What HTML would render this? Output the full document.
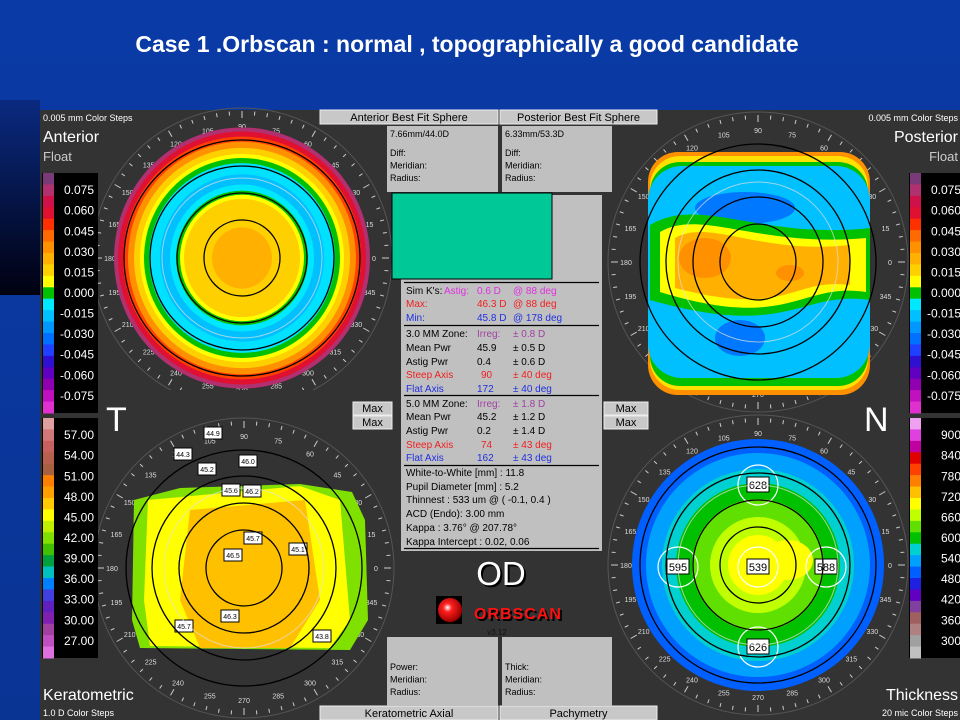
<!DOCTYPE html>
<html><head><meta charset="utf-8">
<style>
html,body{margin:0;padding:0;width:960px;height:720px;overflow:hidden;background:#0b3a9e;font-family:"Liberation Sans",sans-serif}
svg{position:absolute;left:0;top:0}
</style></head>
<body>
<svg id="s" width="960" height="720" viewBox="0 0 960 720">
<defs>
<linearGradient id="bg" x1="0" y1="0" x2="0" y2="1"><stop offset="0" stop-color="#0a3aa6"/><stop offset="1" stop-color="#0a3494"/></linearGradient>
<linearGradient id="dk" x1="0" y1="0" x2="0" y2="1"><stop offset="0" stop-color="#0a2a80"/><stop offset="1" stop-color="#000010"/></linearGradient>
<radialGradient id="ball" cx="0.4" cy="0.4" r="0.6"><stop offset="0" stop-color="#fff"/><stop offset="0.3" stop-color="#ff2020"/><stop offset="1" stop-color="#a00000"/></radialGradient>
</defs>
<rect x="0" y="0" width="960" height="720" fill="url(#bg)"/>
<rect x="0" y="100" width="40" height="195" fill="url(#dk)"/>
<text x="467" y="52" fill="#fff" font-size="23" font-weight="bold" text-anchor="middle">Case 1 .Orbscan : normal , topographically a good candidate</text>
<rect x="40" y="110" width="920" height="610" fill="#333333"/>
<g id="maps"></g>
<g id="ui"></g>
</svg>
<script>
const floatLabels=["0.075","0.060","0.045","0.030","0.015","0.000","-0.015","-0.030","-0.045","-0.060","-0.075"];
const floatColors=["#7a3a7a","#b03070","#d0104a","#e01030","#ff3000","#ff6a00","#ff9000","#ffb000","#ffd000","#ffff00","#00c000","#00e8ff","#00c0ff","#0098ff","#0070ff","#2040ff","#3010d0","#6000c0","#9000b0","#c010c0","#e030d0"];
const kerLabels=["57.00","54.00","51.00","48.00","45.00","42.00","39.00","36.00","33.00","30.00","27.00"];
const kerColors=["#e0a0a0","#d07878","#c86060","#b86050","#a86040","#ff8000","#ffa000","#ffc800","#ffff00","#c0f000","#80e000","#40c000","#00a040","#00c0c0","#0080ff","#4040e0","#6020c0","#8020b0","#a040a0","#c050c0","#e070e0"];
const thkLabels=["900","840","780","720","660","600","540","480","420","360","300"];
const thkColors=["#f0a0f0","#e040e0","#c000a0","#e00000","#ff4000","#ff8000","#ffc000","#ffff00","#c0ff00","#60e000","#00c000","#00d0d0","#00a0ff","#0060ff","#2020e0","#6000c0","#8040a0","#a06060","#b08080","#a0a0a0","#c0c0c0"];
const kerValues=["44.9","44.3","46.0","45.2","45.6","46.2","45.1","45.7","46.5","46.3","45.7","43.8"];
const kerOffsets=[[-31,-135],[-61,-114],[4,-107],[-37,-99],[-13,-78],[8,-77],[54,-19],[9,-30],[-11,-13],[-14,48],[-60,58],[78,68]];
const thkValues=["628","595","539","588","626"];
const NS="http://www.w3.org/2000/svg";
function el(tag,attrs,parent,txt){const e=document.createElementNS(NS,tag);for(const k in attrs)e.setAttribute(k,attrs[k]);if(txt!==undefined)e.textContent=txt;parent.appendChild(e);return e;}
const maps=document.getElementById('maps'),ui=document.getElementById('ui');

function dial(cx,cy,name){
  const g=el('g',{},maps);
  
  
  for(let a=0;a<360;a+=5){
    const r=a*Math.PI/180,r1=147,r2=a%30==0?140:143;
    el('line',{x1:cx+r1*Math.cos(r),y1:cy-r1*Math.sin(r),x2:cx+r2*Math.cos(r),y2:cy-r2*Math.sin(r),stroke:'#ccc','stroke-width':1},g);
    if(a%15==0){const rl=132;el('text',{x:cx+rl*Math.cos(r),y:cy-rl*Math.sin(r)+3,fill:'#ddd','font-size':7,'text-anchor':'middle'},g,String(a));}
  }
  el('circle',{cx,cy,r:150,fill:'none',stroke:'#555','stroke-width':1},g);
}
function rings(cx,cy,name){
  const g=el('g',{},maps);
  
  
  [38,65,92,118].forEach(r=>el('circle',{cx,cy,r,fill:'none',stroke:'#000','stroke-width':1.3},g));
  el('circle',{cx,cy,r:80,fill:'none',stroke:'#e0e0e0','stroke-width':1,opacity:0.7},g);
}
dial(242,258,'anterior');
(function(){const g=el('g',{},maps);


const cx=242,cy=258;
const L=[[128,"#b03070"],[124,"#e01030"],[119,"#ff4000"],[114,"#ff9000"],[108,"#ffd000"],[102,"#ffff00"],[98,"#00c000"],[93,"#00e0ff"],[82,"#00c0ff"],[72,"#00e8ff"],[66,"#00c000"],[62,"#ffff00"],[58,"#ffd000"],[30,"#ffb000"]];
L.forEach(([r,c])=>el('ellipse',{cx,cy,rx:r,ry:r*1.02,fill:c},g));
el('rect',{x:105,y:390,width:280,height:30,fill:'#333'},g);
})();
rings(242,258,'anterior');
dial(758,262,'posterior');
(function(){const g=el('g',{},maps);


el('rect',{x:648,y:152,width:222,height:243,rx:30,fill:'#ff9000'},g);
el('rect',{x:650,y:156,width:218,height:234,rx:30,fill:'#ffe000'},g);
el('rect',{x:650,y:162,width:218,height:224,rx:30,fill:'#00c000'},g);
el('rect',{x:648,y:166,width:222,height:212,rx:34,fill:'#00c0ff'},g);
el('ellipse',{cx:745,cy:208,rx:50,ry:16,fill:'#0078ff'},g);
el('ellipse',{cx:740,cy:338,rx:25,ry:18,fill:'#0078ff'},g);
el('path',{d:'M650 225 C700 195 760 240 870 228 L870 300 C800 290 790 340 650 300 Z',fill:'#00c000'},g);
el('path',{d:'M660 232 C700 208 760 248 866 238 L866 292 C800 282 790 332 660 292 Z',fill:'#ffff00'},g);
el('path',{d:'M675 238 C710 218 760 255 850 245 L850 285 C790 278 790 318 675 288 Z',fill:'#ffb000'},g);
el('ellipse',{cx:705,cy:258,rx:26,ry:20,fill:'#ff9000'},g);
el('ellipse',{cx:790,cy:273,rx:14,ry:8,fill:'#ff9000'},g);
})();
rings(758,262,'posterior');
dial(244,568,'keratometric');
(function(){const g=el('g',{},maps);


el('path',{d:'M134 500 L180 488 L300 484 L352 492 L365 520 L368 620 L350 650 L140 648 L132 620 Z',fill:'#80e000'},g);
el('path',{d:'M148 500 L300 486 L340 500 L350 620 L330 648 L150 646 L144 600 Z',fill:'#ffff00'},g);
el('path',{d:'M190 510 L305 500 L320 600 L290 648 L200 648 L180 600 Z',fill:'#ffc000'},g);
kerValues.forEach((v,i)=>{const [dx,dy]=kerOffsets[i];const b=el('g',{},g);


el('rect',{x:244+dx-9,y:568+dy-6,width:18,height:12,fill:'#fff',stroke:'#000'},b);
el('text',{x:244+dx,y:568+dy+3,'font-size':7,'text-anchor':'middle',fill:'#000'},b,v);});
})();
rings(244,568,'keratometric');
dial(758,565,'thickness');
(function(){const g=el('g',{},maps);


const cx=758,cy=565;
[[126,"#0060ff"],[112,"#00a0ff"],[96,"#00d0d0"],[82,"#00c000"],[66,"#60e000"],[48,"#c0ff00"],[30,"#ffff00"]].forEach(([r,c])=>el('ellipse',{cx,cy,rx:r,ry:r,fill:c},g));
el('ellipse',{cx:cx+30,cy:cy-5,rx:25,ry:20,fill:'#ffff00'},g);
[[0,-80],[-80,2],[0,2],[68,2],[0,82]].forEach(([dx,dy],i)=>{
 el('circle',{cx:cx+dx,cy:cy+dy,r:20,fill:'none',stroke:'#fff','stroke-width':1.2},g);
 const t=el('g',{},g);
 
 
 el('rect',{x:cx+dx-11,y:cy+dy-8,width:22,height:15,fill:'#fff',stroke:'#000'},t);
 el('text',{x:cx+dx,y:cy+dy+4,'font-size':11,'text-anchor':'middle',fill:'#000'},t,thkValues[i]);});
})();
rings(758,565,'thickness');

function legend(x,y0,h,colors,labels,name){
  const g=el('g',{},ui);
  
  
  el('rect',{x:x,y:y0,width:56,height:h,fill:'#000'},g);
  const bh=h/colors.length;
  colors.forEach((c,i)=>el('rect',{x:x+1,y:y0+i*bh,width:11,height:bh+0.5,fill:c},g));
  const step=(h-2*bh*1.5)/(labels.length-1);
  labels.forEach((l,i)=>el('text',{x:x+52,y:y0+bh*1.5+i*step+4,fill:'#fff','font-size':12,'text-anchor':'end'},g,l));
}
legend(42,173,240,floatColors,floatLabels,'anterior-float-legend');
legend(42,418,240,kerColors,kerLabels,'keratometric-legend');
legend(909,173,240,floatColors,floatLabels,'posterior-float-legend');
legend(909,418,240,thkColors,thkLabels,'thickness-legend');

function txt(x,y,s,size,fill,anchor,name,weight){const t=el('text',{x,y,'font-size':size,fill,'text-anchor':anchor||'start','font-weight':weight||'normal'},ui,s);
return t;}
txt(43,121,"0.005 mm Color Steps",9,'#fff','start','anterior-color-steps');
txt(43,142,"Anterior",16,'#fff','start','anterior-title');
txt(43,161,"Float",13,'#ccc','start','anterior-float-label');
txt(958,121,"0.005 mm Color Steps",9,'#fff','end','posterior-color-steps');
txt(958,142,"Posterior",16,'#fff','end','posterior-title');
txt(958,161,"Float",13,'#ccc','end','posterior-float-label');
txt(43,700,"Keratometric",16,'#fff','start','keratometric-title');
txt(43,716,"1.0 D Color Steps",9,'#fff','start','keratometric-color-steps');
txt(958,700,"Thickness",16,'#fff','end','thickness-title');
txt(958,716,"20 mic Color Steps",9,'#fff','end','thickness-color-steps');
txt(106,431,"T",34,'#fff','start','temporal-label');
txt(864,431,"N",34,'#fff','start','nasal-label');

function button(x,y,w,h,label,name,anchor){const g=el('g',{},ui);

el('rect',{x,y,width:w,height:h,fill:'#c8c8c8',stroke:'#eee'},g);
el('text',{x:anchor=='end'?x+w-4:x+w/2,y:y+h-3,'font-size':11,fill:'#000','text-anchor':anchor||'middle'},g,label);}
button(320,110,178,14,"Anterior Best Fit Sphere",'anterior-bfs-tab');
button(500,110,157,14,"Posterior Best Fit Sphere",'posterior-bfs-tab');
button(320,706,178,14,"Keratometric Axial",'keratometric-axial-tab');
button(500,706,157,14,"Pachymetry",'pachymetry-tab');
button(353,402,39,13,"Max",'max-button-1');button(353,416,39,13,"Max",'max-button-2');
button(604,402,44,13,"Max",'max-button-3');button(604,416,44,13,"Max",'max-button-4');

function box(x,y,w,h,lines,name,topLine){const g=el('g',{},ui);

el('rect',{x,y,width:w,height:h,fill:'#c0c0c0'},g);
if(topLine)el('text',{x:x+3,y:y+11,'font-size':9,fill:'#000'},g,topLine);
lines.forEach((l,i)=>el('text',{x:x+3,y:y+h-36+i*12.5,'font-size':9,fill:'#000'},g,l));}
box(387,126,111,66,["Diff:","Meridian:","Radius:"],'anterior-bfs-box',"7.66mm/44.0D");
box(502,126,110,66,["Diff:","Meridian:","Radius:"],'posterior-bfs-box',"6.33mm/53.3D");
box(387,637,111,69,["Power:","Meridian:","Radius:"],'anterior-point-box');
box(502,637,110,69,["Thick:","Meridian:","Radius:"],'pachymetry-point-box');

(function(){const g=el('g',{},ui);

el('rect',{x:401,y:195,width:201,height:356,fill:'#c0c0c0'},g);
const rows=[
[294,[["Sim K's:",'#000',406],["Astig:",'#e030e0',444],["0.6 D",'#e030e0',477],["@ 88 deg",'#e030e0',513]]],
[307,[["Max:",'#f02020',406],["46.3 D",'#f02020',477],["@ 88 deg",'#f02020',513]]],
[321,[["Min:",'#2030e0',406],["45.8 D",'#2030e0',477],["@ 178 deg",'#2030e0',513]]],
[337,[["3.0 MM Zone:",'#000',406],["Irreg:",'#a040a0',477],["± 0.8 D",'#a040a0',513]]],
[351,[["Mean Pwr",'#000',406],["45.9",'#000',477],["± 0.5 D",'#000',513]]],
[365,[["Astig Pwr",'#000',406],["0.4",'#000',477],["± 0.6 D",'#000',513]]],
[378,[["Steep Axis",'#f02020',406],["90",'#f02020',481],["± 40 deg",'#f02020',513]]],
[392,[["Flat Axis",'#2030e0',406],["172",'#2030e0',477],["± 40 deg",'#2030e0',513]]],
[407,[["5.0 MM Zone:",'#000',406],["Irreg:",'#a040a0',477],["± 1.8 D",'#a040a0',513]]],
[420,[["Mean Pwr",'#000',406],["45.2",'#000',477],["± 1.2 D",'#000',513]]],
[434,[["Astig Pwr",'#000',406],["0.2",'#000',477],["± 1.4 D",'#000',513]]],
[448,[["Steep Axis",'#f02020',406],["74",'#f02020',481],["± 43 deg",'#f02020',513]]],
[461,[["Flat Axis",'#2030e0',406],["162",'#2030e0',477],["± 43 deg",'#2030e0',513]]],
[476,[["White-to-White [mm] : 11.8",'#000',406]]],
[490,[["Pupil Diameter [mm] :  5.2",'#000',406]]],
[503,[["Thinnest : 533 um @ ( -0.1, 0.4 )",'#000',406]]],
[517,[["ACD (Endo): 3.00 mm",'#000',406]]],
[531,[["Kappa : 3.76° @ 207.78°",'#000',406]]],
[545,[["Kappa Intercept : 0.02, 0.06",'#000',406]]]];
rows.forEach(([y,items])=>items.forEach(([s,c,x])=>el('text',{x,y,'font-size':10,fill:c},g,s)));
[282,325,395,465,548].forEach(y=>el('line',{x1:404,x2:599,y1:y+0.5,y2:y+0.5,stroke:'#000','stroke-width':1.2},g));
el('rect',{x:392,y:193,width:160,height:86,fill:'#00c896',stroke:'#000','stroke-width':1},g);
})();
(function(){const g=el('g',{},ui);

el('text',{x:503,y:587,'font-size':33,fill:'#000','text-anchor':'middle'},g,"OD");
el('text',{x:501,y:585,'font-size':33,fill:'#fff','text-anchor':'middle'},g,"OD");
const l=el('g',{},ui);

el('rect',{x:436,y:596,width:26,height:28,fill:'#000'},l);
el('circle',{cx:450,cy:610,r:12,fill:'url(#ball)'},l);
el('text',{x:476,y:621,'font-size':16,'font-weight':'bold',fill:'#000','letter-spacing':'1'},l,"ORBSCAN");
el('text',{x:474,y:619,'font-size':16,'font-weight':'bold',fill:'#ff1010','letter-spacing':'1'},l,"ORBSCAN");
el('text',{x:497,y:635,'font-size':8,fill:'#111','text-anchor':'middle'},l,"v3.12");
})();
</script>
</body></html>
